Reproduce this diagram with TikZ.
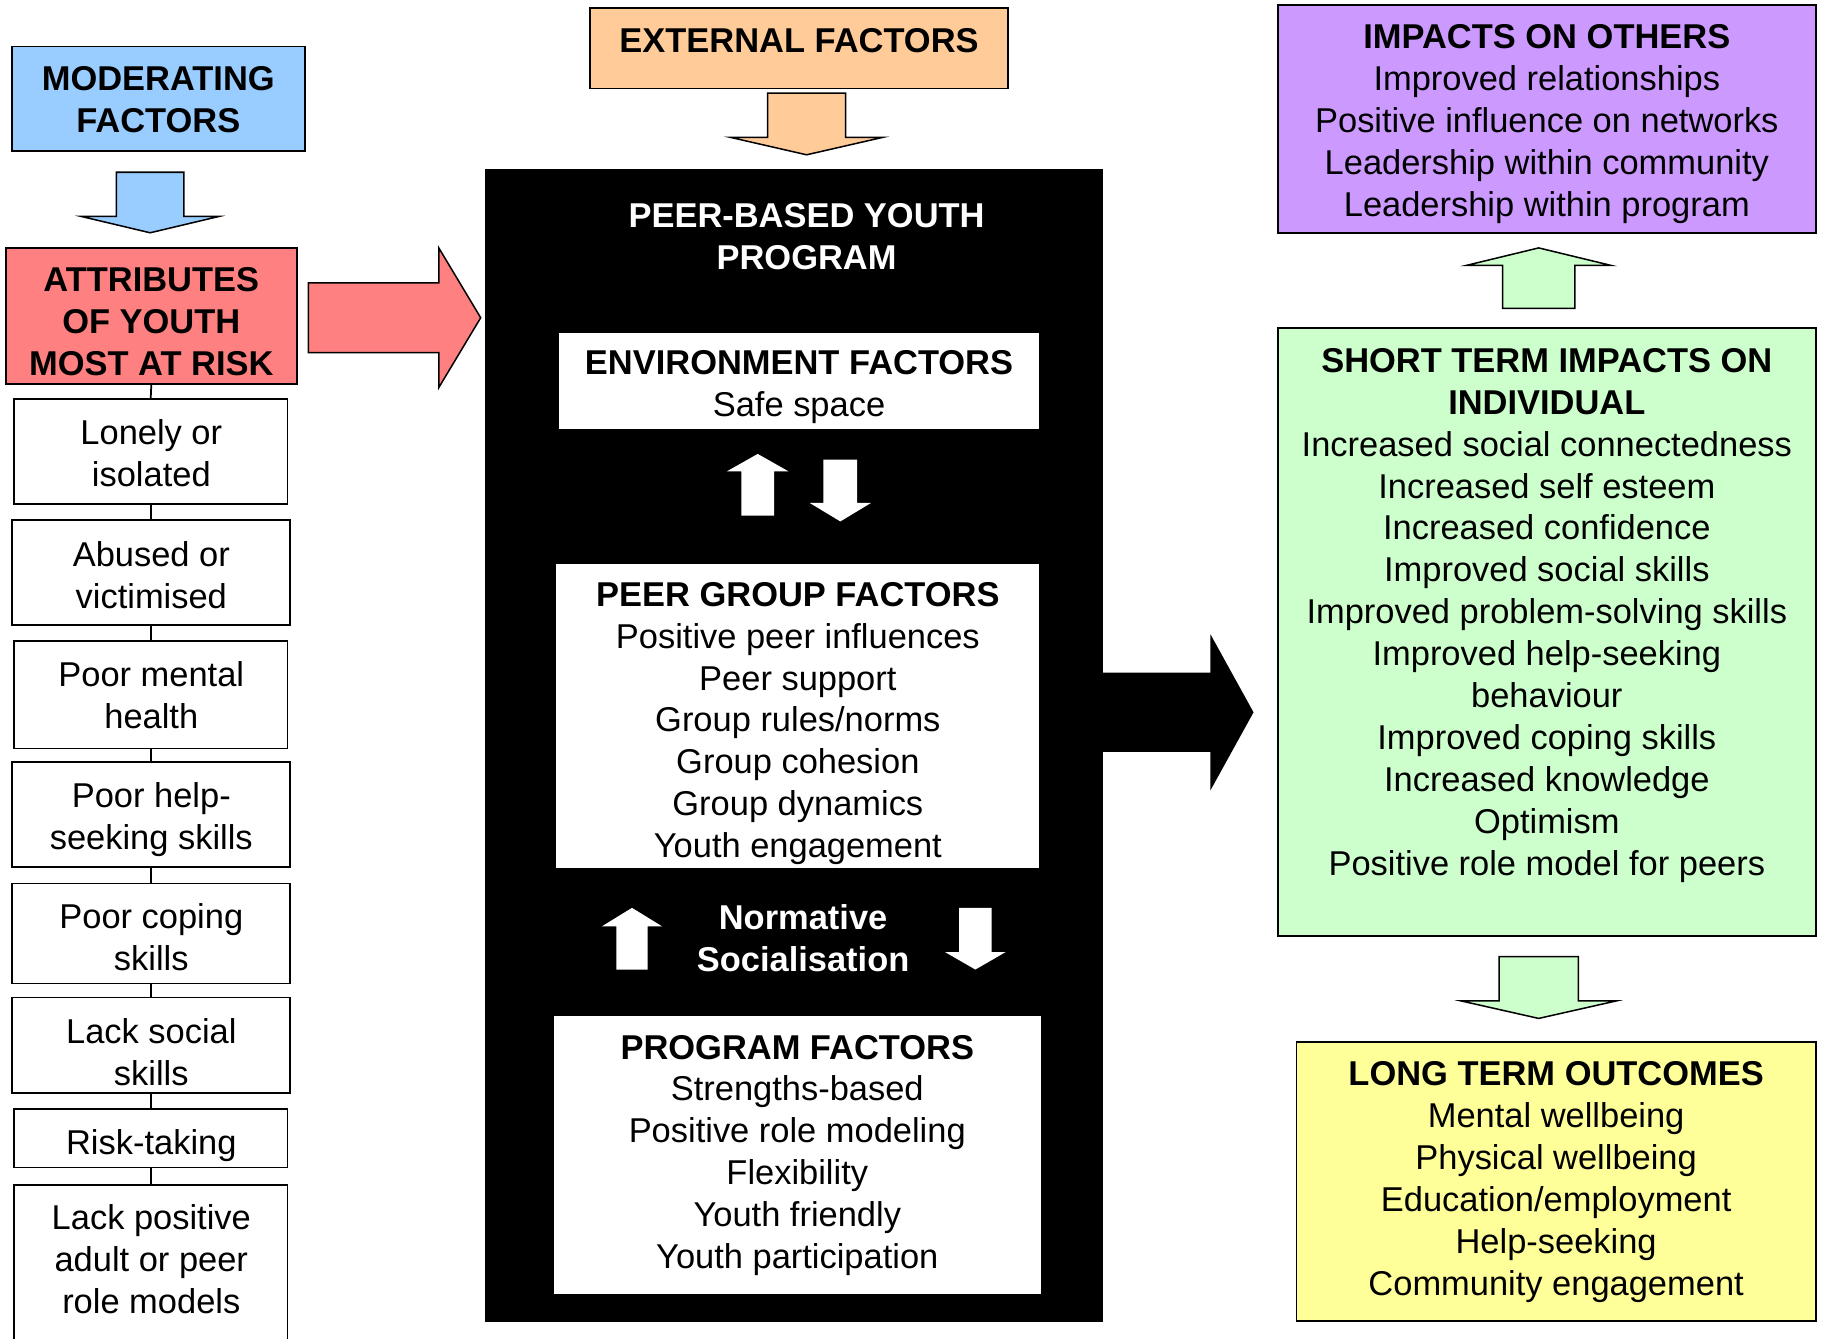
\documentclass[tikz,border=0pt]{standalone}
\usepackage{fontspec}
\setmainfont{Liberation Sans}
\definecolor{modblue}{HTML}{99CCFF}
\definecolor{attred}{HTML}{FF8080}
\definecolor{extorange}{HTML}{FFCC99}
\definecolor{othpurple}{HTML}{CC99FF}
\definecolor{stgreen}{HTML}{CCFFCC}
\definecolor{ltyellow}{HTML}{FFFF99}
\begin{document}
\begin{tikzpicture}[x=1pt,y=-1pt,
  box/.style={draw=black, line width=1.5pt, rectangle, inner sep=0pt},
  wbox/.style={draw=none, fill=white, rectangle, inner sep=0pt},
  txt/.style={font=\fontsize{29.6}{36}\selectfont, align=center, inner sep=0pt, anchor=north},
  hd/.style={txt, font=\fontsize{29.6}{36}\selectfont\bfseries},
  conn/.style={draw=black, line width=1.5pt},
  blockarrow/.style={draw=black, line width=1.3pt, line join=miter},
  whitearrow/.style={fill=white, draw=none}
]
\useasboundingbox (0,0) rectangle (1568,1150);
\clip (0,0) rectangle (1568,1150);

% ---------- left column ----------
\node[box, fill=modblue, minimum width=252, minimum height=90] (mod) at (136,85) {};
\node[hd] (modt) at (136,57) {MODERATING\\FACTORS};

\coordinate (bluetip) at (129,200);
\draw[blockarrow, fill=modblue, shift={(bluetip)}] (0,0) -- (59,-14) -- (29,-14) -- (29,-52) -- (-29,-52) -- (-29,-14) -- (-59,-14) -- cycle;

\node[box, fill=attred, minimum width=250, minimum height=117] (att) at (130,271.5) {};
\node[hd] (attt) at (130,230) {ATTRIBUTES\\OF YOUTH\\MOST AT RISK};

\node[box, fill=white, minimum width=235, minimum height=90] (lonely) at (129.5,388) {};
\node[box, fill=white, minimum width=239, minimum height=90] (abused) at (129.5,492) {};
\node[box, fill=white, minimum width=235, minimum height=92] (mental) at (129.5,597) {};
\node[box, fill=white, minimum width=239, minimum height=90] (help) at (129.5,700) {};
\node[box, fill=white, minimum width=239, minimum height=86] (coping) at (129.5,802) {};
\node[box, fill=white, minimum width=239, minimum height=82] (social) at (129.5,898) {};
\node[box, fill=white, minimum width=235, minimum height=50] (risk) at (129.5,978) {};
\node[box, fill=white, minimum width=235, minimum height=170] (lack) at (129.5,1103) {};

\draw[conn] (att.south) -- (lonely.north);
\draw[conn] (lonely.south) -- (abused.north);
\draw[conn] (abused.south) -- (mental.north);
\draw[conn] (mental.south) -- (help.north);
\draw[conn] (help.south) -- (coping.north);
\draw[conn] (coping.south) -- (social.north);
\draw[conn] (social.south) -- (risk.north);
\draw[conn] (risk.south) -- (lack.north);

\node[txt] (lonelyt) at (130,360) {Lonely or\\isolated};
\node[txt] (abusedt) at (130,465) {Abused or\\victimised};
\node[txt] (mentalt) at (130,568) {Poor mental\\health};
\node[txt] (helpt) at (130,672) {Poor help-\\seeking skills};
\node[txt] (copingt) at (130,776) {Poor coping\\skills};
\node[txt] (socialt) at (130,875) {Lack social\\skills};
\node[txt] (riskt) at (130,970) {Risk-taking};
\node[txt] (lackt) at (130,1035) {Lack positive\\adult or peer\\role models};

\coordinate (redtip) at (413,273);
\draw[blockarrow, fill=attred, shift={(redtip)}] (0,0) -- (-36,-60) -- (-36,-30) -- (-148,-30) -- (-148,30) -- (-36,30) -- (-36,60) -- cycle;

% ---------- centre column ----------
\node[box, fill=extorange, minimum width=359, minimum height=69] (ext) at (686.5,41.5) {};
\node[hd] (extt) at (686.5,24) {EXTERNAL FACTORS};

\coordinate (orangetip) at (693,133);
\draw[blockarrow, fill=extorange, shift={(orangetip)}] (0,0) -- (65.5,-15) -- (33.5,-15) -- (33.5,-53) -- (-33.5,-53) -- (-33.5,-15) -- (-65.5,-15) -- cycle;

\node[rectangle, fill=black, draw=black, inner sep=0pt, minimum width=530, minimum height=990] (prog) at (682,640) {};
\node[hd, text=white] (progt) at (693,175) {PEER-BASED YOUTH\\PROGRAM};

\coordinate (blacktip) at (1077,612);
\fill[black, shift={(blacktip)}] (0,0) -- (-37,-67) -- (-37,-34) -- (-135,-34) -- (-135,34) -- (-37,34) -- (-37,67) -- cycle;

\node[wbox, minimum width=413, minimum height=83] (env) at (686.5,327.5) {};
\node[txt] (envt) at (686.5,301) {\textbf{ENVIRONMENT FACTORS}\\Safe space};

\coordinate (envup) at (651,390);
\fill[whitearrow, shift={(envup)}] (0,0) -- (26.5,15) -- (14,15) -- (14,53) -- (-14,53) -- (-14,15) -- (-26.5,15) -- cycle;
\coordinate (envdown) at (722,448);
\fill[whitearrow, shift={(envdown)}] (0,0) -- (26.5,-16) -- (14.5,-16) -- (14.5,-53) -- (-14.5,-53) -- (-14.5,-16) -- (-26.5,-16) -- cycle;

\node[wbox, minimum width=415, minimum height=261] (peer) at (685.5,615.5) {};
\node[txt] (peert) at (685.5,500) {\textbf{PEER GROUP FACTORS}\\Positive peer influences\\Peer support\\Group rules/norms\\Group cohesion\\Group dynamics\\Youth engagement};

\node[hd, text=white] (normt) at (690,777) {Normative\\Socialisation};
\coordinate (normup) at (543,780);
\fill[whitearrow, shift={(normup)}] (0,0) -- (26,16) -- (13.5,16) -- (13.5,53) -- (-13.5,53) -- (-13.5,16) -- (-26,16) -- cycle;
\coordinate (normdown) at (838,833);
\fill[whitearrow, shift={(normdown)}] (0,0) -- (26,-15) -- (14,-15) -- (14,-53) -- (-14,-53) -- (-14,-15) -- (-26,-15) -- cycle;

\node[wbox, minimum width=418, minimum height=239] (progf) at (685,992.5) {};
\node[txt] (progft) at (685,889) {\textbf{PROGRAM FACTORS}\\Strengths-based\\Positive role modeling\\Flexibility\\Youth friendly\\Youth participation};

% ---------- right column ----------
\node[box, fill=othpurple, minimum width=462, minimum height=196] (oth) at (1329,102) {};
\node[txt] (otht) at (1329,21) {\textbf{IMPACTS ON OTHERS}\\Improved relationships\\Positive influence on networks\\Leadership within community\\Leadership within program};

\coordinate (upgreentip) at (1322,213);
\draw[blockarrow, fill=stgreen, shift={(upgreentip)}] (0,0) -- (62,15) -- (31,15) -- (31,52) -- (-31,52) -- (-31,15) -- (-62,15) -- cycle;

\node[box, fill=stgreen, minimum width=462, minimum height=522] (st) at (1329,543) {};
\node[txt] (stt) at (1329,299) {\textbf{SHORT TERM IMPACTS ON}\\\textbf{INDIVIDUAL}\\Increased social connectedness\\Increased self esteem\\Increased confidence\\Improved social skills\\Improved problem-solving skills\\Improved help-seeking\\behaviour\\Improved coping skills\\Increased knowledge\\Optimism\\Positive role model for peers};

\coordinate (downgreentip) at (1322,875);
\draw[blockarrow, fill=stgreen, shift={(downgreentip)}] (0,0) -- (66.5,-15) -- (34,-15) -- (34,-53) -- (-34,-53) -- (-34,-15) -- (-66.5,-15) -- cycle;

\node[box, fill=ltyellow, minimum width=446, minimum height=240] (lt) at (1337,1015) {};
\node[txt] (ltt) at (1337,912) {\textbf{LONG TERM OUTCOMES}\\Mental wellbeing\\Physical wellbeing\\Education/employment\\Help-seeking\\Community engagement};
\end{tikzpicture}
\end{document}
